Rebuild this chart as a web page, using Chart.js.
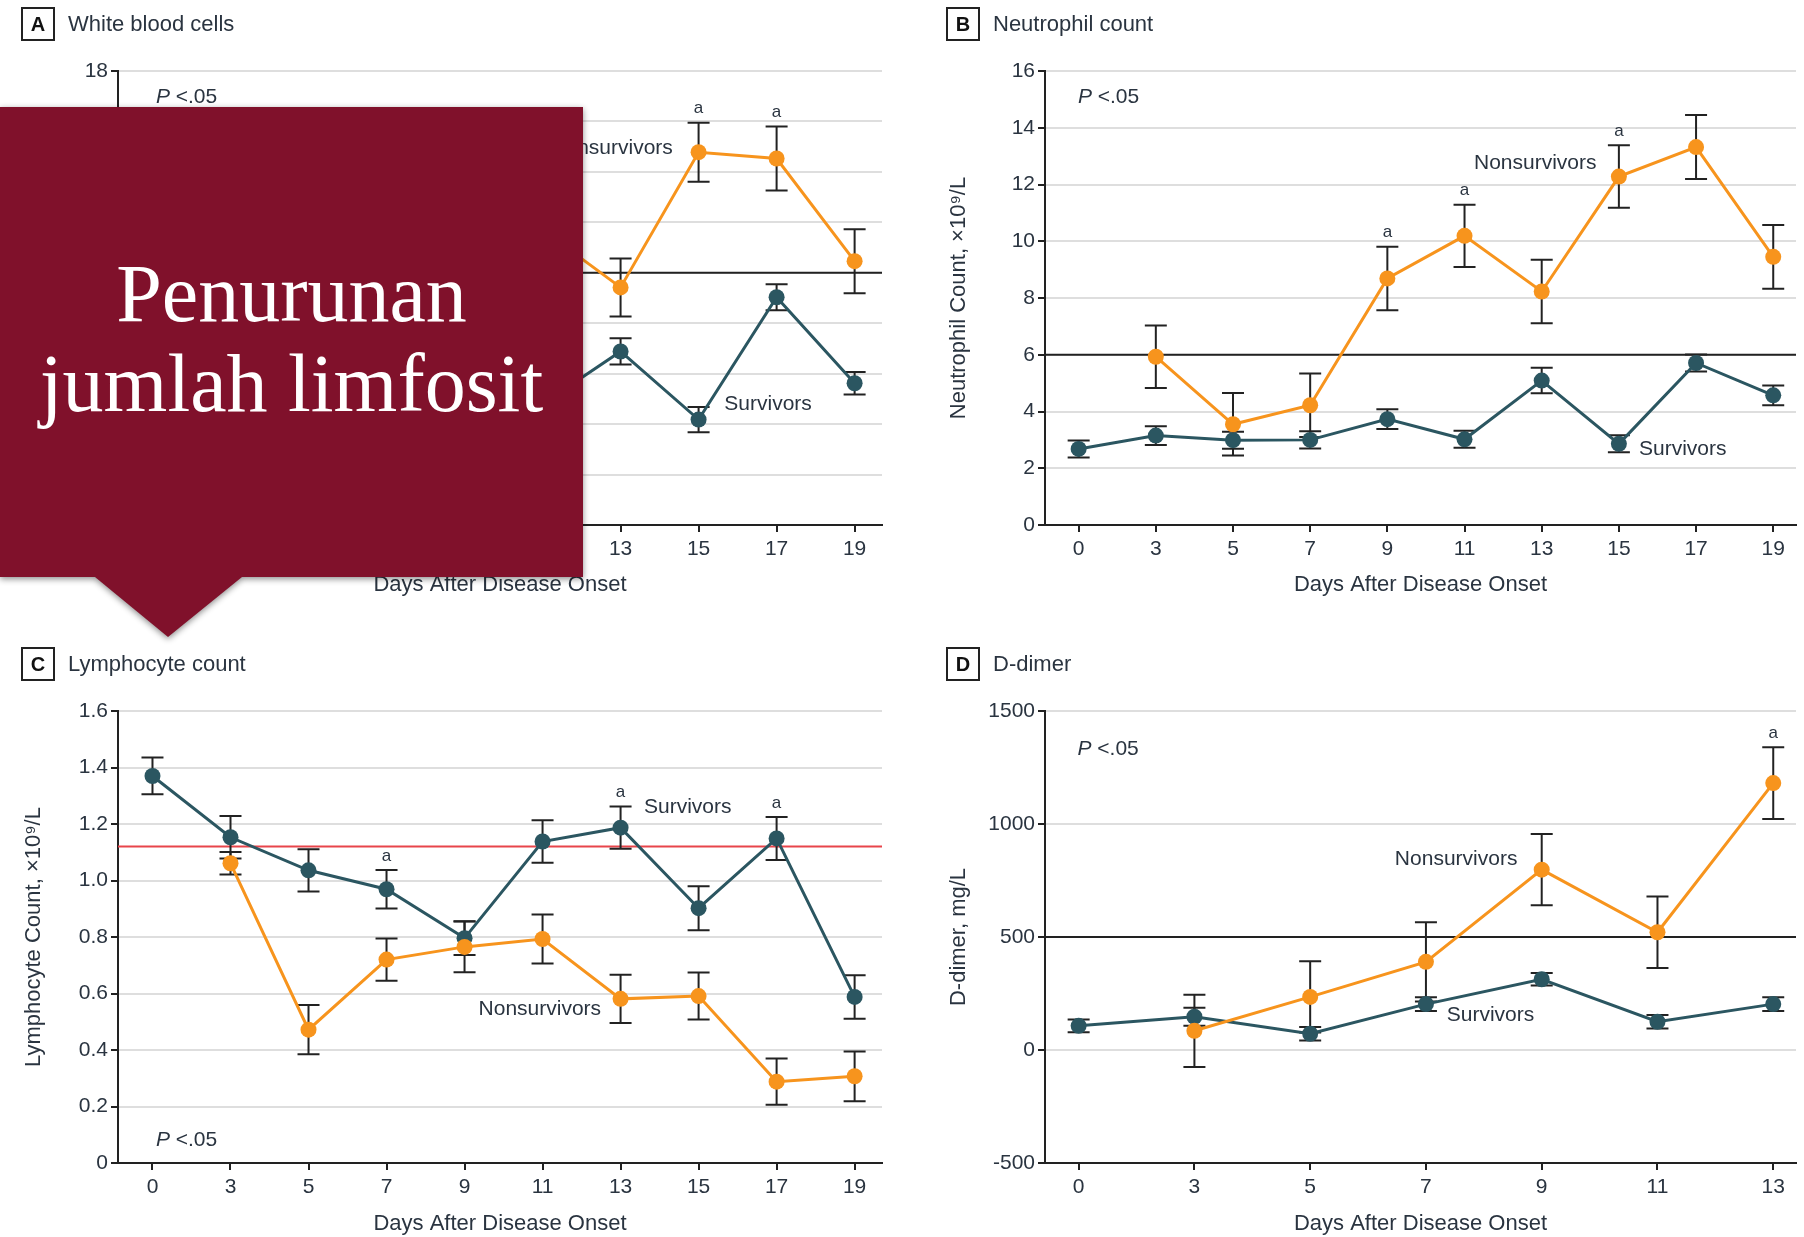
<!DOCTYPE html>
<html>
<head>
<meta charset="utf-8">
<title>Penurunan jumlah limfosit</title>
<script src="https://cdn.jsdelivr.net/npm/chart.js@4.4.1/dist/chart.umd.min.js"></script>
<style>
  body { margin: 0; background: #fff; }
  #page { position: relative; width: 1804px; height: 1237px; overflow: hidden; font-family: "Liberation Sans", Arial, sans-serif; color: #2a3440; }
  canvas { position: absolute; }
  .tag { position: absolute; width: 30px; height: 30px; border: 2px solid #222; font-weight: bold; font-size: 20px; line-height: 30px; text-align: center; color: #111; }
  .ttl { position: absolute; font-size: 22px; line-height: 34px; }
  #callout { position: absolute; left: 0; top: 107px; width: 583px; height: 530px; z-index: 5; filter: drop-shadow(0 2px 3px rgba(0,0,0,0.45)); }
  #callout .box { position: absolute; left: 0; top: 0; width: 583px; height: 470px; background: #80112b; }
  #callout .tip { position: absolute; left: 95px; top: 470px; width: 0; height: 0; border-left: 73px solid transparent; border-right: 74px solid transparent; border-top: 60px solid #80112b; }
  #callout .txt { position: absolute; left: 0; top: 142px; width: 583px; text-align: center; font-family: "Liberation Serif", serif; font-size: 82px; line-height: 90px; color: #fff; }
</style>
</head>
<body>
<div id="page">
  <canvas id="cA" width="902" height="620" style="left:0;top:0"></canvas>
  <canvas id="cB" width="902" height="620" style="left:902px;top:0"></canvas>
  <canvas id="cC" width="902" height="617" style="left:0;top:620px"></canvas>
  <canvas id="cD" width="902" height="617" style="left:902px;top:620px"></canvas>

  <div class="tag" style="left:21px;top:7px">A</div><div class="ttl" style="left:68px;top:7px">White blood cells</div>
  <div class="tag" style="left:946px;top:7px">B</div><div class="ttl" style="left:993px;top:7px">Neutrophil count</div>
  <div class="tag" style="left:21px;top:647px">C</div><div class="ttl" style="left:68px;top:647px">Lymphocyte count</div>
  <div class="tag" style="left:946px;top:647px">D</div><div class="ttl" style="left:993px;top:647px">D-dimer</div>

  <div id="callout">
    <div class="box"></div>
    <div class="tip"></div>
    <div class="txt">Penurunan<br>jumlah limfosit</div>
  </div>
</div>

<script>
const days = ["0", "3", "5", "7", "9", "11", "13", "15", "17", "19"];
const ddDays = ["0", "3", "5", "7", "9", "11", "13"];

// A - white blood cells (days 0-11 are under the callout box, estimated)
const wbcNon = [null, 6.4, 5.7, 6.1, 9.4, 11.7, 9.42, 14.78, 14.53, 10.46];
const wbcNonErr = [null, 1.0, 0.9, 1.0, 1.2, 1.2, 1.15, 1.17, 1.27, 1.27];
const wbcSurv = [4.6, 4.9, 4.6, 4.7, 5.1, 4.8, 6.88, 4.18, 9.03, 5.62];
const wbcSurvErr = [0.4, 0.4, 0.4, 0.4, 0.45, 0.45, 0.52, 0.5, 0.52, 0.45];
const wbcTicks = [0, 2, 4, 6, 8, 10, 12, 14, 16, 18];

// B - neutrophil count
const neutNon = [null, 5.93, 3.55, 4.22, 8.69, 10.19, 8.23, 12.28, 13.32, 9.45];
const neutNonErr = [null, 1.1, 1.1, 1.12, 1.12, 1.1, 1.12, 1.1, 1.13, 1.12];
const neutSurv = [2.68, 3.15, 2.99, 3.0, 3.73, 3.02, 5.09, 2.86, 5.71, 4.57];
const neutSurvErr = [0.3, 0.33, 0.3, 0.3, 0.35, 0.3, 0.45, 0.3, 0.3, 0.35];
const neutTicks = [0, 2, 4, 6, 8, 10, 12, 14, 16];

// C - lymphocyte count
const lymNon = [null, 1.061, 0.472, 0.72, 0.765, 0.793, 0.581, 0.591, 0.288, 0.307];
const lymNonErr = [null, 0.04, 0.087, 0.075, 0.09, 0.087, 0.085, 0.083, 0.082, 0.088];
const lymSurv = [1.37, 1.153, 1.036, 0.969, 0.796, 1.138, 1.187, 0.902, 1.149, 0.588];
const lymSurvErr = [0.065, 0.075, 0.075, 0.068, 0.06, 0.075, 0.075, 0.078, 0.076, 0.077];
const lymTicks = [0, 0.2, 0.4, 0.6, 0.8, 1.0, 1.2, 1.4, 1.6];

// D - D-dimer
const ddNon = [null, 85, 235, 390, 798, 521, 1181];
const ddNonErr = [null, 160, 158, 175, 158, 158, 159];
const ddSurv = [107, 147, 72, 203, 313, 125, 203];
const ddSurvErr = [28, 40, 30, 30, 28, 30, 30];
const ddTicks = [-500, 0, 500, 1000, 1500];

// significance marks ("a"), by day index
const wbcFlags = [7, 8];
const neutFlags = [4, 5, 7];
const lymFlags = [3, 6, 8];
const ddFlags = [6];

const ORANGE = "#f7941d", TEAL = "#2b5661", INK = "#2a3440", AXIS = "#222";

// reference line, error bars, labels
const marks = {
    id: "marks",
    beforeDatasetsDraw(chart, args, o) {
        const { ctx, chartArea: a, scales: { x, y } } = chart;
        ctx.save();
        const ry = y.getPixelForValue(o.ref);
        ctx.strokeStyle = o.refColor;
        ctx.lineWidth = 2;
        ctx.beginPath(); ctx.moveTo(a.left, ry); ctx.lineTo(a.right, ry); ctx.stroke();

        ctx.strokeStyle = AXIS;
        chart.data.datasets.forEach(ds => {
            ds.data.forEach((p, i) => {
                if (p.y == null) return;
                const px = x.getPixelForValue(p.x);
                const top = y.getPixelForValue(p.y + ds.err[i]);
                const bot = y.getPixelForValue(p.y - ds.err[i]);
                ctx.beginPath();
                ctx.moveTo(px, top); ctx.lineTo(px, bot);
                ctx.moveTo(px - 11, top); ctx.lineTo(px + 11, top);
                ctx.moveTo(px - 11, bot); ctx.lineTo(px + 11, bot);
                ctx.stroke();
            });
        });
        ctx.restore();
    },
    afterDatasetsDraw(chart, args, o) {
        const { ctx, scales: { x, y } } = chart;
        ctx.save();
        ctx.fillStyle = INK;
        ctx.textBaseline = "middle";

        ctx.font = "17px 'Liberation Sans'";
        ctx.textAlign = "center";
        const ds = chart.data.datasets[o.flagSeries];
        o.flags.forEach(i => {
            const p = ds.data[i];
            ctx.fillText("a", x.getPixelForValue(p.x), y.getPixelForValue(p.y + ds.err[i]) - 14);
        });

        ctx.font = "21px 'Liberation Sans'";
        o.notes.forEach(n => {
            ctx.textAlign = n.align;
            ctx.fillText(n.text, x.getPixelForValue(n.x), y.getPixelForValue(n.y));
        });

        let px = x.getPixelForValue(o.p[0]);
        const py = y.getPixelForValue(o.p[1]);
        ctx.textAlign = "left";
        ctx.font = "italic 21px 'Liberation Sans'";
        ctx.fillText("P", px, py);
        px += ctx.measureText("P ").width;
        ctx.font = "21px 'Liberation Sans'";
        ctx.fillText("<.05", px, py);
        ctx.restore();
    }
};

function series(label, vals, err, color) {
    return {
        label, err,
        data: vals.map((v, i) => ({ x: i, y: v })),
        borderColor: color,
        backgroundColor: color,
        pointBackgroundColor: color,
        borderWidth: 3,
        pointRadius: 8,
        pointHoverRadius: 8,
        pointBorderWidth: 0,
        tension: 0
    };
}

function panel(id, p) {
    return new Chart(document.getElementById(id), {
        type: "line",
        data: {
            datasets: [
                series("Nonsurvivors", p.non, p.nonErr, ORANGE),
                series("Survivors", p.surv, p.survErr, TEAL)
            ]
        },
        options: {
            responsive: false,
            animation: false,
            devicePixelRatio: 1,
            layout: { padding: { left: 0, top: p.top, right: p.right, bottom: 0 } },
            plugins: {
                legend: { display: false },
                tooltip: { enabled: false },
                marks: { ref: p.ref, refColor: p.refColor, flags: p.flags, flagSeries: p.flagSeries, notes: p.notes, p: p.pval }
            },
            scales: {
                x: {
                    type: "linear",
                    min: p.xMin,
                    max: p.xMax,
                    afterBuildTicks: s => { s.ticks = p.days.map((d, i) => ({ value: i })); },
                    afterFit: s => { s.height = p.xh; },
                    ticks: { callback: v => p.days[v], color: INK, font: { size: 21 }, padding: 5, autoSkip: false, maxRotation: 0 },
                    grid: { drawOnChartArea: false, color: AXIS, tickLength: 7, lineWidth: 2 },
                    border: { color: AXIS, width: 2 },
                    title: { display: true, text: "Days After Disease Onset", color: INK, font: { size: 22 }, padding: { top: 0, bottom: p.xtPad } }
                },
                y: {
                    min: p.yTicks[0],
                    max: p.yTicks[p.yTicks.length - 1],
                    afterBuildTicks: s => { s.ticks = p.yTicks.map(v => ({ value: v })); },
                    afterFit: s => { s.width = p.yw; },
                    ticks: { callback: p.yFmt, color: INK, font: { size: 21 }, padding: 3 },
                    grid: { color: "#dedede", tickColor: AXIS, tickLength: 7, lineWidth: 2 },
                    border: { color: AXIS, width: 2 },
                    title: { display: true, text: p.yTitle, color: INK, font: { size: 22 }, padding: { top: p.ytPad, bottom: 0 } }
                }
            }
        },
        plugins: [marks]
    });
}

const plain = v => String(v);

panel("cA", {
    days, non: wbcNon, nonErr: wbcNonErr, surv: wbcSurv, survErr: wbcSurvErr, yTicks: wbcTicks,
    yTitle: "White Blood Cell Count, ×10⁹/L", yFmt: plain,
    top: 71, right: 20, xh: 95, yw: 118, xMin: -0.442, xMax: 9.351, xtPad: 21.5, ytPad: 20.4,
    ref: 10, refColor: AXIS, flags: wbcFlags, flagSeries: 0, pval: [0.044, 16.95],
    notes: [
        { text: "Nonsurvivors", x: 6.67, y: 14.94, align: "right" },
        { text: "Survivors", x: 7.33, y: 4.8, align: "left" }
    ]
});

panel("cB", {
    days, non: neutNon, nonErr: neutNonErr, surv: neutSurv, survErr: neutSurvErr, yTicks: neutTicks,
    yTitle: "Neutrophil Count, ×10⁹/L", yFmt: plain,
    top: 71, right: 0, xh: 95, yw: 143, xMin: -0.436, xMax: 9.295, xtPad: 21.5, ytPad: 43.4,
    ref: 6, refColor: AXIS, flags: neutFlags, flagSeries: 0, pval: [-0.01, 15.07],
    notes: [
        { text: "Nonsurvivors", x: 6.71, y: 12.75, align: "right" },
        { text: "Survivors", x: 7.26, y: 2.68, align: "left" }
    ]
});

panel("cC", {
    days, non: lymNon, nonErr: lymNonErr, surv: lymSurv, survErr: lymSurvErr, yTicks: lymTicks,
    yTitle: "Lymphocyte Count, ×10⁹/L", yFmt: v => (v === 0 ? "0" : v.toFixed(1)),
    top: 91, right: 20, xh: 74, yw: 118, xMin: -0.442, xMax: 9.351, xtPad: 0, ytPad: 20.4,
    ref: 1.12, refColor: "#e8454b", flags: lymFlags, flagSeries: 1, pval: [0.044, 0.081],
    notes: [
        { text: "Survivors", x: 6.3, y: 1.258, align: "left" },
        { text: "Nonsurvivors", x: 5.75, y: 0.545, align: "right" }
    ]
});

panel("cD", {
    days: ddDays, non: ddNon, nonErr: ddNonErr, surv: ddSurv, survErr: ddSurvErr, yTicks: ddTicks,
    yTitle: "D-dimer, mg/L", yFmt: plain,
    top: 91, right: 0, xh: 74, yw: 143, xMin: -0.2906, xMax: 6.1966, xtPad: 0, ytPad: 43.4,
    ref: 500, refColor: AXIS, flags: ddFlags, flagSeries: 0, pval: [-0.01, 1332],
    notes: [
        { text: "Nonsurvivors", x: 3.79, y: 843, align: "right" },
        { text: "Survivors", x: 3.18, y: 156, align: "left" }
    ]
});
</script>
</body>
</html>
